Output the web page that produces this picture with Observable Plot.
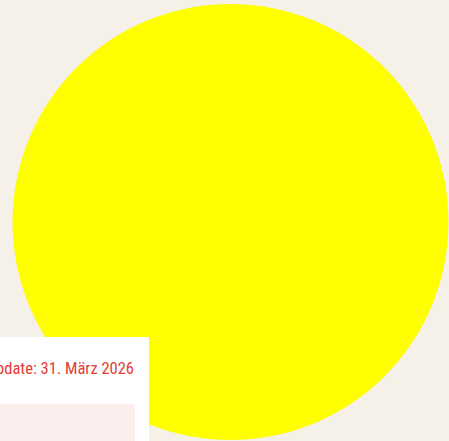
<!DOCTYPE html>
<html>
<head>
<meta charset="utf-8">
<script src="https://cdn.jsdelivr.net/npm/d3@7"></script>
<script src="https://cdn.jsdelivr.net/npm/@observablehq/plot@0.6"></script>
<style>
  html, body { margin: 0; padding: 0; background: #f5f0e8; overflow: hidden; }
  #wrap { position: relative; width: 449px; height: 441px; overflow: hidden; }
  #wrap svg { display: block; }
  #box { position: absolute; left: 0; top: 337px; width: 149px; height: 110px; background: #ffffff; overflow: hidden; }
  #upd { position: absolute; right: 15px; top: 22px; white-space: nowrap; color: #e53b36;
         font-family: "Roboto Condensed", "Liberation Sans Narrow", "DejaVu Sans Condensed", sans-serif; font-size: 16.5px; line-height: 20px; }
  #pink { position: absolute; left: 0; top: 67px; width: 135px; height: 60px; background: #fbeeec; }
</style>
</head>
<body>
<div id="wrap"></div>
<script>
const labels = ["Kreis"];
const values = [100];
const updateText = "Letztes Update: 31. März 2026";

const data = labels.map((l, i) => ({label: l, value: values[i]}));

const chart = Plot.plot({
  width: 449,
  height: 441,
  marginLeft: 12,
  marginRight: 1,
  marginTop: 2,
  marginBottom: 0,
  style: {background: "transparent", overflow: "visible"},
  r: {type: "sqrt", domain: [0, d3.max(values)], range: [0, 218]},
  marks: [
    Plot.dot(data, {r: "value", frameAnchor: "middle", fill: "#ffff00", stroke: "none"})
  ]
});
const wrap = document.getElementById("wrap");
wrap.appendChild(chart);
const box = document.createElement("div");
box.id = "box";
box.innerHTML = `<div id="upd"></div><div id="pink"></div>`;
box.querySelector("#upd").textContent = updateText;
wrap.appendChild(box);
</script>
</body>
</html>
